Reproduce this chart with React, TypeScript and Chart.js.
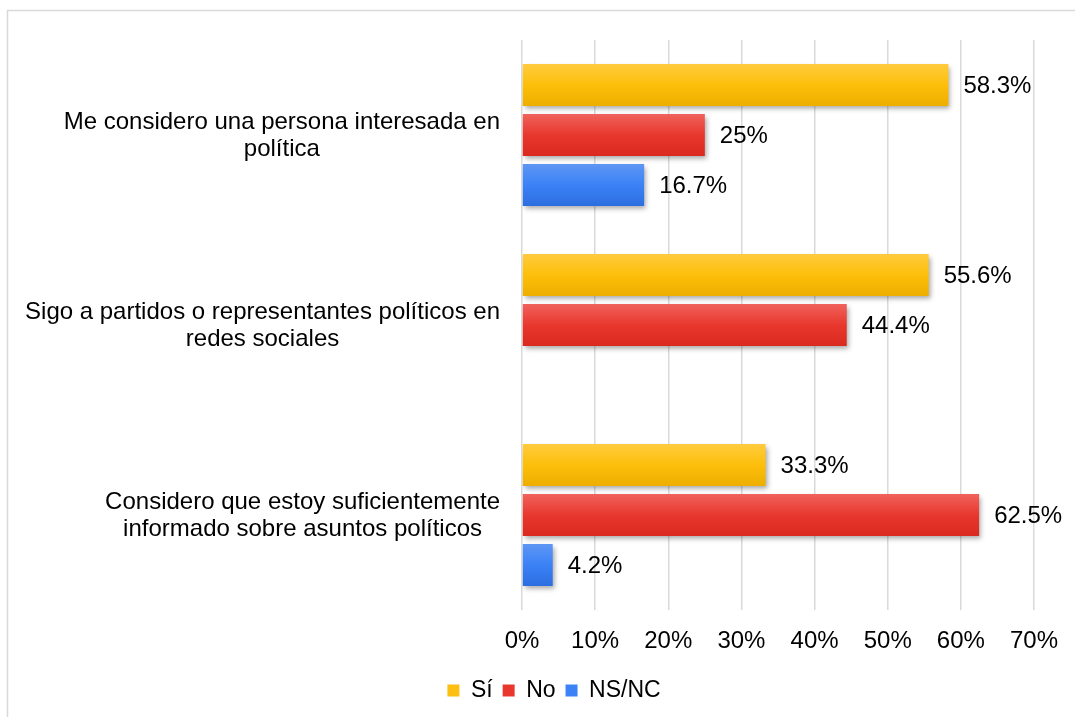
import React, { useEffect, useRef } from 'react';
import { Chart, registerables } from 'chart.js';

Chart.register(...registerables);

const categories: string[][] = [
  ['Me considero una persona interesada en', 'política'],
  ['Sigo a partidos o representantes políticos en', 'redes sociales'],
  ['Considero que estoy suficientemente', 'informado sobre asuntos políticos'],
];
const seriesNames = ['Sí', 'No', 'NS/NC'];
const siValues = [58.3, 55.6, 33.3];
const noValues = [25, 44.4, 62.5];
const nsncValues = [16.7, 0, 4.2];
const xTickValues = [0, 10, 20, 30, 40, 50, 60, 70];

const solidColors = ['#FDBF12', '#E8382E', '#3B82F6'];
const gradientColors = [
  ['#FFCB3F', '#FDBF0A', '#EDAE00'],
  ['#F0625C', '#E8382E', '#DA2A1F'],
  ['#5E96F4', '#3B82F6', '#2C6EE0'],
];

const FONT = '"Liberation Sans", Arial, sans-serif';
const FS = 24;

const framePlugin = {
  id: 'frame',
  beforeDraw(chart: any) {
    const ctx = chart.ctx;
    ctx.save();
    ctx.strokeStyle = '#d9d9d9';
    ctx.lineWidth = 1.5;
    ctx.beginPath();
    ctx.moveTo(7.5, 717);
    ctx.lineTo(7.5, 10.5);
    ctx.lineTo(1075, 10.5);
    ctx.stroke();
    ctx.restore();
  },
};

const barStylePlugin = {
  id: 'barStyle',
  beforeDatasetsDraw(chart: any) {
    const ctx = chart.ctx;
    chart.data.datasets.forEach((_ds: any, di: number) => {
      const meta = chart.getDatasetMeta(di);
      meta.data.forEach((el: any) => {
        const h = el.height;
        const top = el.y - h / 2;
        const g = ctx.createLinearGradient(0, top, 0, top + h);
        const c = gradientColors[di];
        g.addColorStop(0, c[0]);
        g.addColorStop(0.5, c[1]);
        g.addColorStop(1, c[2]);
        el.options = Object.assign({}, el.options, { backgroundColor: g });
      });
    });
    ctx.save();
    ctx.shadowColor = 'rgba(0,0,0,0.35)';
    ctx.shadowBlur = 5;
    ctx.shadowOffsetX = 2;
    ctx.shadowOffsetY = 3;
  },
  afterDatasetsDraw(chart: any) {
    const ctx = chart.ctx;
    ctx.restore();
    ctx.save();
    ctx.font = `${FS}px ${FONT}`;
    ctx.fillStyle = '#000';
    ctx.textAlign = 'left';
    ctx.textBaseline = 'middle';
    chart.data.datasets.forEach((ds: any, di: number) => {
      const meta = chart.getDatasetMeta(di);
      meta.data.forEach((el: any, i: number) => {
        const v = ds.data[i];
        if (!v) return;
        ctx.fillText(`${v}%`, el.x + 15, el.y + 1);
      });
    });
    // category labels
    const yScale = chart.scales.y;
    const rightEdge = chart.chartArea.left - 22;
    const lh = 27;
    ctx.textAlign = 'center';
    categories.forEach((lines, i) => {
      const widest = Math.max(...lines.map((l) => ctx.measureText(l).width));
      const cx = rightEdge - widest / 2;
      const cy = yScale.getPixelForTick(i) + 1;
      lines.forEach((line, li) => {
        ctx.fillText(line, cx, cy + (li - (lines.length - 1) / 2) * lh);
      });
    });
    ctx.restore();
  },
};

export default function App() {
  const ref = useRef<HTMLCanvasElement>(null);
  useEffect(() => {
    if (!ref.current) return;
    const chart = new Chart(ref.current, {
      type: 'bar',
      data: {
        labels: categories.map((c) => c.join(' ')),
        datasets: [
          { label: seriesNames[0], data: siValues, backgroundColor: solidColors[0] },
          { label: seriesNames[1], data: noValues, backgroundColor: solidColors[1] },
          { label: seriesNames[2], data: nsncValues, backgroundColor: solidColors[2] },
        ],
      },
      options: {
        indexAxis: 'y',
        responsive: false,
        animation: false,
        categoryPercentage: 0.79,
        barPercentage: 0.84,
        layout: { padding: { top: 40, right: 37, left: 70, bottom: 5 } },
        scales: {
          x: {
            min: 0,
            max: 70,
            afterBuildTicks: (s: any) => {
              s.ticks = xTickValues.map((v) => ({ value: v }));
            },
            afterFit: (s: any) => {
              s.height = 59;
            },
            ticks: {
              callback: (v: any) => `${v}%`,
              color: '#000',
              font: { family: FONT, size: FS },
              padding: 17,
            },
            grid: { color: '#d9d9d9', lineWidth: 1.5, drawTicks: false },
            border: { display: false },
          },
          y: {
            ticks: { display: false },
            afterFit: (s: any) => {
              s.width = 452;
            },
            grid: { display: false, drawTicks: false },
            border: { display: false },
          },
        },
        plugins: {
          legend: {
            position: 'bottom',
            labels: {
              boxWidth: 12,
              boxHeight: 12,
              color: '#000',
              font: { family: FONT, size: 23 },
              padding: 10,
            },
          },
          tooltip: { enabled: false },
        },
      },
      plugins: [framePlugin, barStylePlugin],
    } as any);
    return () => chart.destroy();
  }, []);
  return (
    <div style={{ position: 'absolute', left: 0, top: 0, width: 1075, height: 717, background: '#fff' }}>
      <canvas ref={ref} width={1075} height={717} style={{ width: 1075, height: 717 }} />
    </div>
  );
}
